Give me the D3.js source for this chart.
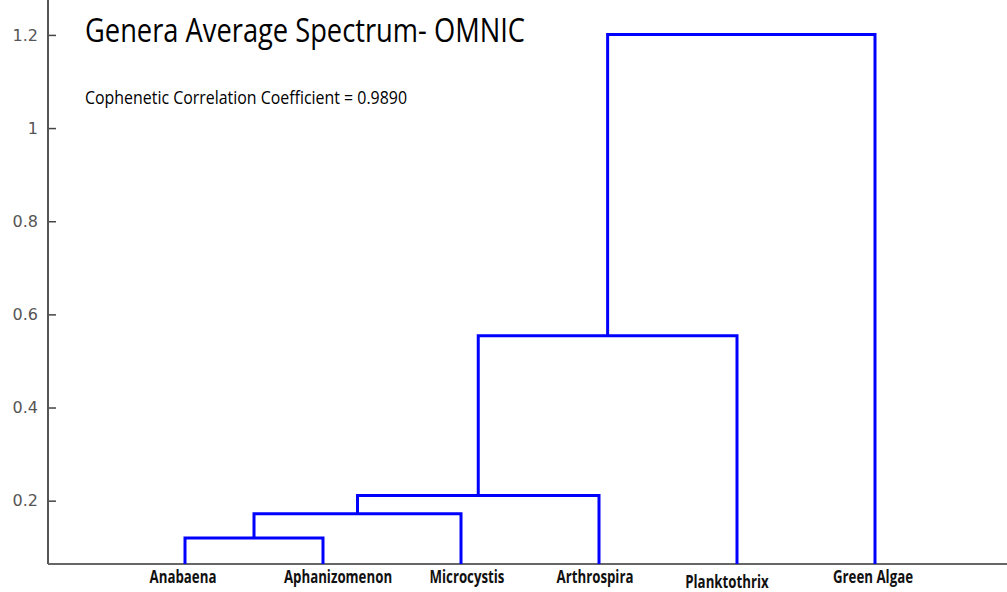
<!DOCTYPE html>
<html>
<head>
<meta charset="utf-8">
<script src="https://cdn.jsdelivr.net/npm/d3@7"></script>
<style>
    body { margin: 0; background: #fff; }
    .tick text { font-family: "DejaVu Sans", sans-serif; font-size: 16px; fill: #555; }
    .leaf-label { font-family: "Open Sans", sans-serif; font-weight: bold; font-size: 17px; fill: #111; }
</style>
</head>
<body>
<div id="chart"></div>
<script>
// leaves in dendrogram order
const leaves = ["Anabaena", "Aphanizomenon", "Microcystis", "Arthrospira", "Planktothrix", "Green Algae"];
// linkage: [left node, right node, height]; nodes 0-5 are leaves, 6+ are clusters
const linkage = [
    [0, 1, 0.120],
    [6, 2, 0.172],
    [7, 3, 0.211],
    [8, 4, 0.554],
    [9, 5, 1.201]
];
const yTicks = [0.2, 0.4, 0.6, 0.8, 1, 1.2];
const title = "Genera Average Spectrum- OMNIC";
const subtitle = "Cophenetic Correlation Coefficient = 0.9890";

// small nudges of the leaf labels, as placed in the original
const labelDx = [-2, 15, 6, -4, -10, -2];
const labelDy = [0, 0, 0, 0, 5, 0];

const width = 1007, height = 592;

const svg = d3.select("#chart").append("svg")
    .attr("width", width)
    .attr("height", height);

const x = d3.scaleLinear().domain([0, 7]).range([47, 1013]);
const y = d3.scaleLinear().domain([0.064, 1.275]).range([564, 0]);

// axes
const yAxis = d3.axisLeft(y)
    .tickValues(yTicks)
    .tickSize(-8)
    .tickPadding(10)
    .tickFormat(d3.format("~g"));

const gy = svg.append('g')
    .attr('transform', `translate(${x(0) + 1}, 0)`)
    .call(yAxis);
gy.select('.domain').remove();
gy.selectAll('.tick line').attr('stroke', '#444').attr('stroke-width', 1.5);

svg.append('line')
    .attr('x1', x(0) + 1).attr('x2', x(0) + 1)
    .attr('y1', 0).attr('y2', y(0.064))
    .attr('stroke', '#555').attr('stroke-width', 2);

svg.append('line')
    .attr('x1', x(0) + 1).attr('x2', width)
    .attr('y1', y(0.064)).attr('y2', y(0.064))
    .attr('stroke', '#666').attr('stroke-width', 2);

// build node positions
const nodes = leaves.map((name, i) => ({xv: x(i + 1), h: 0.064}));
linkage.forEach(([a, b, h]) => {
    nodes.push({xv: (nodes[a].xv + nodes[b].xv) / 2, h: h, a: a, b: b});
});

const links = nodes.filter(n => n.a !== undefined);

svg.append('g')
    .selectAll('path')
    .data(links)
    .enter()
    .append('path')
    .attr('d', n => {
        const l = nodes[n.a], r = nodes[n.b];
        return `M${l.xv},${y(l.h)}V${y(n.h)}H${r.xv}V${y(r.h)}`;
    })
    .attr('fill', 'none')
    .attr('stroke', '#0000ff')
    .attr('stroke-width', 3)
    .attr('stroke-linejoin', 'miter');

// leaf labels, squeezed to look like a condensed face
svg.append('g')
    .selectAll('text')
    .data(leaves)
    .enter()
    .append('text')
    .attr('class', 'leaf-label')
    .attr('x', (d, i) => x(i + 1) + labelDx[i])
    .attr('y', (d, i) => 583 + labelDy[i])
    .attr('text-anchor', 'middle')
    .text(d => d)
    .each(function() {
        const w = this.getComputedTextLength();
        d3.select(this)
            .attr('textLength', w * 0.78)
            .attr('lengthAdjust', 'spacingAndGlyphs');
    });

// title
svg.append('text')
    .attr('x', 85)
    .attr('y', 42)
    .attr('textLength', 440)
    .attr('lengthAdjust', 'spacingAndGlyphs')
    .style('font-family', '"Open Sans", sans-serif')
    .style('font-size', '33px')
    .style('fill', '#000')
    .text(title);

svg.append('text')
    .attr('x', 85)
    .attr('y', 104)
    .attr('textLength', 322)
    .attr('lengthAdjust', 'spacingAndGlyphs')
    .style('font-family', '"Open Sans", sans-serif')
    .style('font-size', '18px')
    .style('fill', '#000')
    .text(subtitle);
</script>
</body>
</html>
